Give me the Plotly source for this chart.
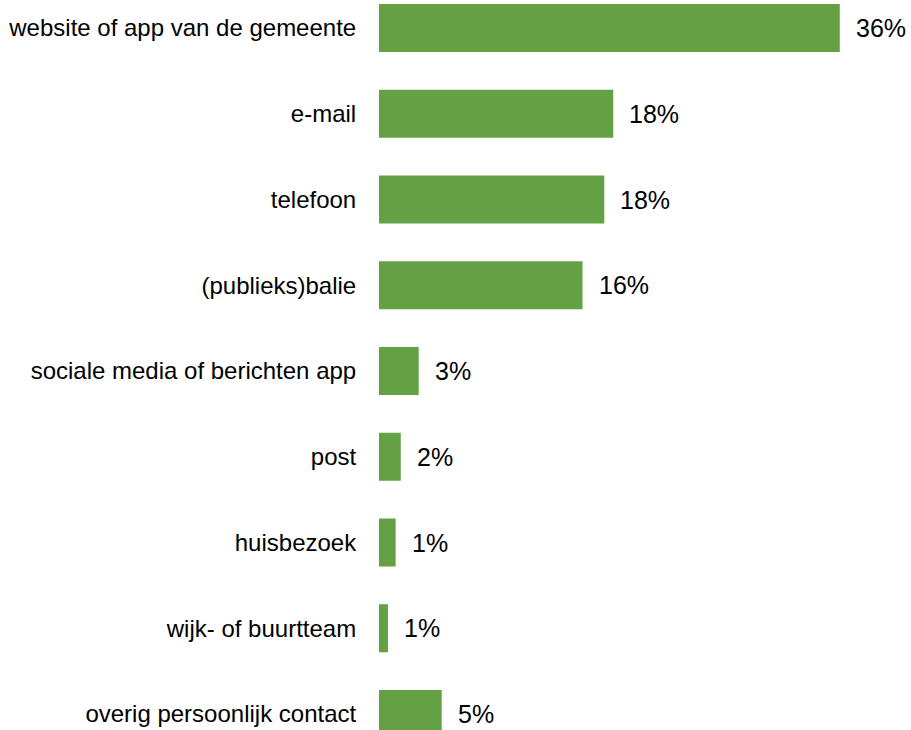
import plotly.graph_objects as go

categories = ["website of app van de gemeente", "e-mail", "telefoon", "(publieks)balie",
              "sociale media of berichten app", "post", "huisbezoek", "wijk- of buurtteam",
              "overig persoonlijk contact"]
values = [36.0, 18.3, 17.6, 15.9, 3.1, 1.7, 1.3, 0.7, 4.9]
labels = ["36%", "18%", "18%", "16%", "3%", "2%", "1%", "1%", "5%"]

green = "#64a044"
font = "Liberation Sans, Arial, sans-serif"

fig = go.Figure(go.Bar(x=values, y=categories, orientation="h",
                       marker=dict(color=green, line=dict(width=0)),
                       hoverinfo="skip"))

# value labels to the right of each bar
for cat, val, lab in zip(categories, values, labels):
    fig.add_annotation(x=val, y=cat, text=lab, showarrow=False,
                       xanchor="left", xshift=14,
                       font=dict(size=25, color="black", family=font))

fig.update_layout(
    width=911, height=730,
    margin=dict(l=379, r=20, t=0, b=0),
    paper_bgcolor="white", plot_bgcolor="white",
    bargap=0.44,
    showlegend=False,
    font=dict(family=font, size=24, color="black"),
)
fig.update_xaxes(range=[0, 40], visible=False, fixedrange=True)
# top and bottom bars run into the edges of the picture, as in the original
fig.update_yaxes(range=[8.1866, -0.3265], showgrid=False, showline=False, zeroline=False,
                 fixedrange=True,
                 ticks="outside", ticklen=17, tickcolor="rgba(0,0,0,0)",
                 tickfont=dict(size=24, color="black", family=font))

# drop the default body margin so the figure sits at the page corner
fig.write_html("out.html", config={"displayModeBar": False},
               post_script="document.body.style.margin = '0';")
